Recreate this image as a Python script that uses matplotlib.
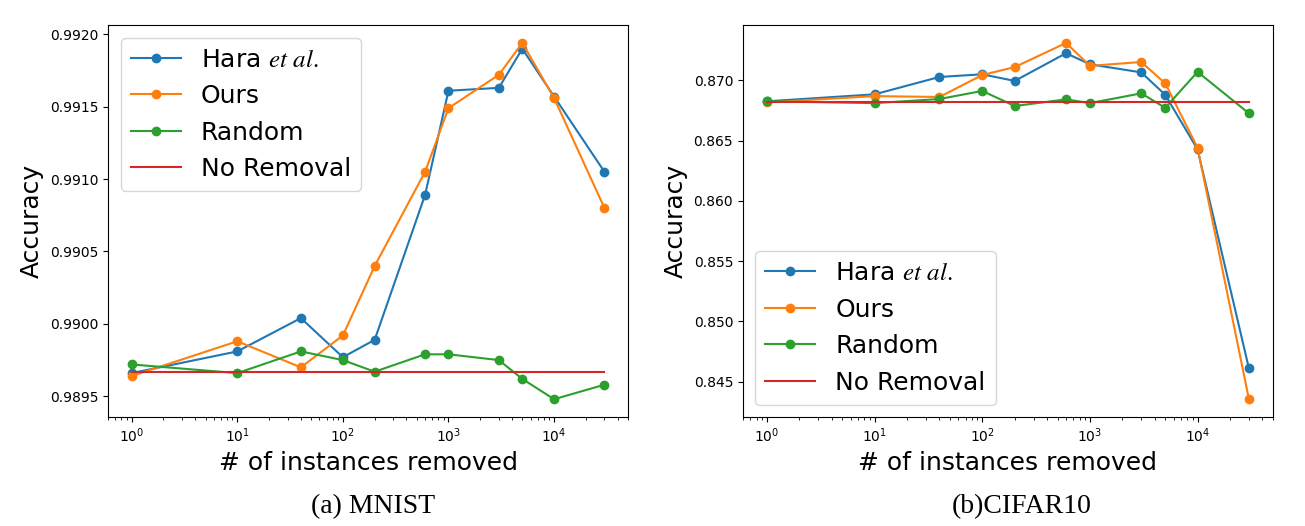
import numpy as np
import matplotlib
matplotlib.use("Agg")
import matplotlib.pyplot as plt

plt.rcParams["mathtext.fontset"] = "stix"

# number of removed instances
removed = [1, 10, 40, 100, 200, 600, 1000, 3000, 5000, 10000, 30000]

# MNIST
mnist_hara = [0.98966, 0.98981, 0.99004, 0.98977, 0.98989, 0.99089, 0.99161,
              0.99163, 0.99190, 0.99157, 0.99105]
mnist_ours = [0.98964, 0.98988, 0.98970, 0.98992, 0.99040, 0.99105, 0.99149,
              0.99172, 0.99194, 0.99156, 0.99080]
mnist_random = [0.98972, 0.98966, 0.98981, 0.98975, 0.98967, 0.98979, 0.98979,
                0.98975, 0.98962, 0.98948, 0.98958]
mnist_base = 0.98967

# CIFAR10
cifar_hara = [0.86826, 0.86884, 0.87028, 0.87050, 0.86995, 0.87225, 0.87133,
              0.87066, 0.86880, 0.86427, 0.84610]
cifar_ours = [0.86817, 0.86869, 0.86862, 0.87044, 0.87110, 0.87310, 0.87120,
              0.87152, 0.86975, 0.86440, 0.84355]
cifar_random = [0.86826, 0.86811, 0.86845, 0.86912, 0.86787, 0.86842, 0.86811,
                0.86892, 0.86772, 0.87070, 0.86726]
cifar_base = 0.86817

labels = [r"Hara $\mathit{et\ al.}$", "Ours", "Random", "No Removal"]

fig = plt.figure(figsize=(13.05, 5.26), dpi=100)
ax1 = fig.add_axes([0.0828, 0.2072, 0.3985, 0.745])
ax2 = fig.add_axes([0.5693, 0.2072, 0.4062, 0.745])

panels = [
    (ax1, mnist_hara, mnist_ours, mnist_random, mnist_base, "upper left"),
    (ax2, cifar_hara, cifar_ours, cifar_random, cifar_base, "lower left"),
]
for ax, hara, ours, rnd, base, loc in panels:
    ax.plot(removed, hara, "o-", color="C0", label=labels[0])
    ax.plot(removed, ours, "o-", color="C1", label=labels[1])
    ax.plot(removed, rnd, "o-", color="C2", label=labels[2])
    ax.plot([removed[0], removed[-1]], [base, base], color="C3", label=labels[3])
    ax.set_xscale("log")
    ax.set_xlabel("# of instances removed", fontsize=18)
    ax.set_ylabel("Accuracy", fontsize=18)
    ax.tick_params(labelsize=10)
    ax.legend(loc=loc, fontsize=18)

ax1.set_yticks([0.9895, 0.9900, 0.9905, 0.9910, 0.9915, 0.9920])
ax1.set_yticklabels(["0.9895", "0.9900", "0.9905", "0.9910", "0.9915", "0.9920"])

fig.text(0.286, 0.025, "(a) MNIST", ha="center", fontsize=20,
         family="Liberation Serif")
fig.text(0.783, 0.025, "(b)CIFAR10", ha="center", fontsize=20,
         family="Liberation Serif")

fig.savefig("out.png", dpi=100)
